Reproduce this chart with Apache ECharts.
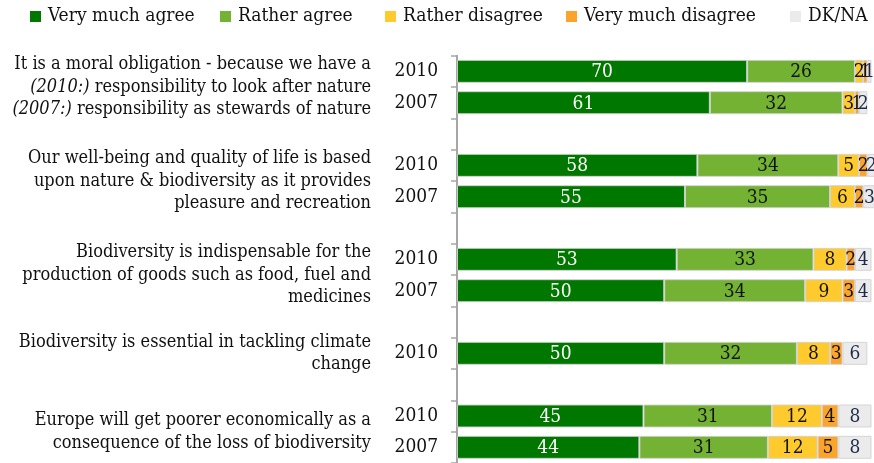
<!DOCTYPE html>
<html>
<head>
<meta charset="utf-8">
<script src="https://cdn.jsdelivr.net/npm/echarts@6/dist/echarts.min.js"></script>
<style>
  html, body { margin: 0; padding: 0; background: #ffffff; }
  #chart { width: 874px; height: 463px; }
</style>
</head>
<body>
<div id="chart"></div>
<script>
// Row layout of the chart: one row per survey year, blank rows separate statements
const rowYears = ['2010', '2007', '', '2010', '2007', '', '2010', '2007', '', '2010', '', '2010', '2007'];

// Answer shares (%) per row; null for the blank separator rows
const veryMuchAgree     = [70, 61, null, 58, 55, null, 53, 50, null, 50, null, 45, 44];
const ratherAgree       = [26, 32, null, 34, 35, null, 33, 34, null, 32, null, 31, 31];
const ratherDisagree    = [2, 3, null, 5, 6, null, 8, 9, null, 8, null, 12, 12];
const veryMuchDisagree  = [1, 1, null, 2, 2, null, 2, 3, null, 3, null, 4, 5];
const dkNa              = [1, 2, null, 2, 3, null, 4, 4, null, 6, null, 8, 8];

const seriesNames = ['Very much agree', 'Rather agree', 'Rather disagree', 'Very much disagree', 'DK/NA'];

// Statements and the rows each one covers
const statements = [
  ['It is a moral obligation - because we have a', '{i|(2010:)} responsibility to look after nature', '{i|(2007:)} responsibility as stewards of nature'],
  ['Our well-being and quality of life is based', 'upon nature & biodiversity as it provides', 'pleasure and recreation'],
  ['Biodiversity is indispensable for the', 'production of goods such as food, fuel and', 'medicines'],
  ['Biodiversity is essential in tackling climate', 'change'],
  ['Europe will get poorer economically as a', 'consequence of the loss of biodiversity']
];
const statementRows = [[0, 1], [3, 4], [6, 7], [9], [11, 12]];

const FONT = "'DejaVu Serif Condensed', 'DejaVu Serif', serif";
const colors = ['#007800', '#73b232', '#ffca2e', '#fba42c', '#ebebeb'];
const labelColors = ['#ffffff', '#111111', '#111111', '#111111', '#1d2a4a'];
const values = [veryMuchAgree, ratherAgree, ratherDisagree, veryMuchDisagree, dkNa];

// Statement label is centred on the middle of the rows it spans (value axis, 1 unit per row)
const statementAt = {};
statements.forEach((lines, k) => {
  const rows = statementRows[k];
  const mid = rows.reduce((s, r) => s + r + 0.5, 0) / rows.length;
  statementAt[Math.round(mid * 2)] = lines.join('\n');
});

const legendLeft = [25, 215, 380, 561, 785];

const chart = echarts.init(document.getElementById('chart'), null, { renderer: 'canvas' });
chart.setOption({
  animation: false,
  textStyle: { fontFamily: FONT },
  legend: seriesNames.map((name, i) => ({
    data: [name],
    left: legendLeft[i],
    top: 2,
    icon: 'rect',
    itemWidth: 11,
    itemHeight: 11,
    itemGap: 0,
    itemStyle: { borderWidth: 0 },
    textStyle: { fontFamily: FONT, fontSize: 19, color: '#111111', padding: [0, 0, 0, 2] }
  })),
  grid: { left: 457, top: 55.7, width: 414.5, height: 408, containLabel: false },
  xAxis: { type: 'value', min: 0, max: 100, show: false },
  yAxis: [
    {
      type: 'category',
      inverse: true,
      data: rowYears,
      axisLine: { show: true, lineStyle: { color: '#a6a6a6', width: 2 } },
      axisTick: { show: true, length: 6, lineStyle: { color: '#a6a6a6', width: 1.5 } },
      axisLabel: { margin: 19, fontFamily: FONT, fontSize: 19, color: '#111111' },
      splitLine: { show: false }
    },
    {
      type: 'value',
      position: 'left',
      inverse: true,
      min: 0,
      max: rowYears.length,
      interval: 0.5,
      axisLine: { show: false },
      axisTick: { show: false },
      splitLine: { show: false },
      axisLabel: {
        margin: 86,
        align: 'right',
        fontFamily: FONT,
        fontSize: 18,
        lineHeight: 22.5,
        color: '#111111',
        formatter: v => statementAt[Math.round(v * 2)] || '',
        rich: {
          i: { fontFamily: FONT, fontStyle: 'italic', fontSize: 18, lineHeight: 22.5, color: '#111111' }
        }
      }
    }
  ],
  series: seriesNames.map((name, i) => ({
    name,
    type: 'bar',
    stack: 'total',
    yAxisIndex: 0,
    barWidth: 23,
    clip: false,
    data: values[i],
    itemStyle: { color: colors[i], borderColor: 'rgba(210,210,210,0.9)', borderWidth: 1 },
    label: {
      show: true,
      position: 'inside',
      fontFamily: FONT,
      fontSize: 19,
      color: labelColors[i],
      offset: [0, 1],
      formatter: p => (p.value == null ? '' : String(p.value))
    }
  }))
});
</script>
</body>
</html>
